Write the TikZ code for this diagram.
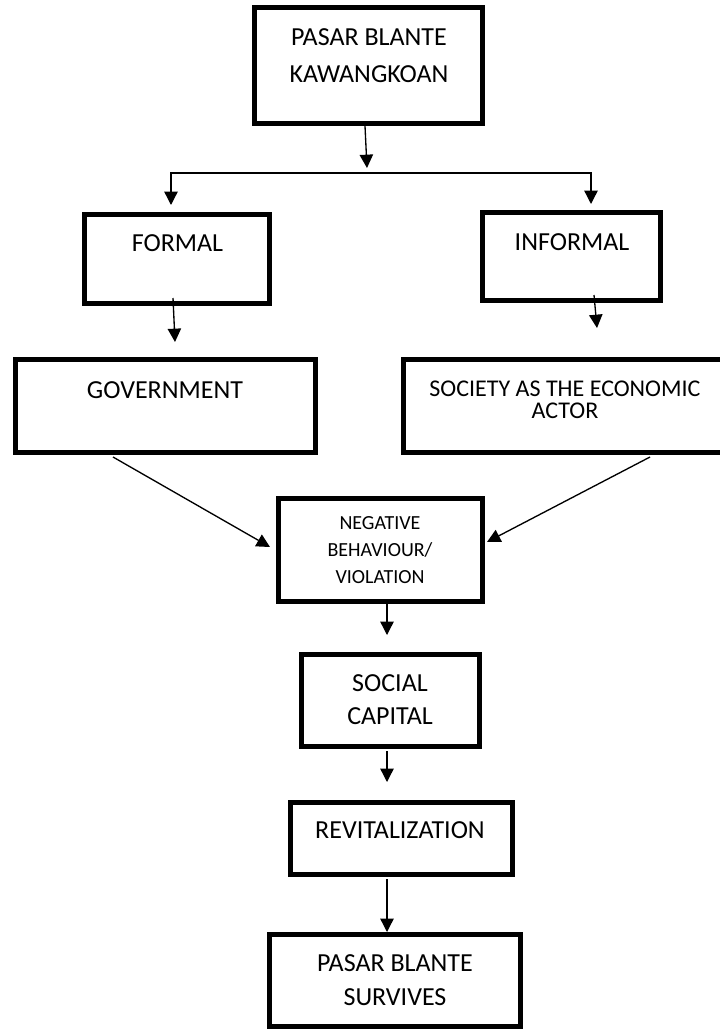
\documentclass[tikz,border=0pt]{standalone}
\usepackage{fontspec}
\setmainfont{Carlito}
\usetikzlibrary{positioning, calc, arrows.meta}
\tikzset{box/.style={draw, line width=3.75pt, inner sep=0pt}}
\tikzset{lbl/.style={align=center, inner sep=0pt, anchor=north, font=\fontsize{19.5}{25.5}\selectfont}}
\tikzset{flow/.style={line width=1pt, -{Triangle[length=10pt, width=10pt]}}}

\begin{document}
\begin{tikzpicture}[x=0.75pt, y=-0.75pt]
      \useasboundingbox (0,0) rectangle (719,1030);

      % boxes
      \node[box, minimum width=171pt, minimum height=87pt] (kaw) at (368.5,65.5) {};
      \node[box, minimum width=138.75pt, minimum height=66.75pt] (formal) at (177,259) {};
      \node[box, minimum width=133.5pt, minimum height=66pt] (informal) at (571.5,256.5) {};
      \node[box, minimum width=225pt, minimum height=69.75pt] (gov) at (165.5,406) {};
      \node[box, minimum width=241.1pt, minimum height=69.75pt] (society) at (564.25,406) {};
      \node[box, minimum width=153pt, minimum height=77.25pt] (negative) at (380.5,550) {};
      \node[box, minimum width=133.5pt, minimum height=69pt] (capital) at (390.5,700.5) {};
      \node[box, minimum width=166.5pt, minimum height=54pt] (revital) at (401.5,838.5) {};
      \node[box, minimum width=188.25pt, minimum height=69pt] (survive) at (395,980.5) {};

      % texts
      \node[lbl, font=\fontsize{19.5}{27.4}\selectfont] (kawtxt) at (369,28.8) {PASAR BLANTE\\KAWANGKOAN};
      \node[lbl] (formaltxt) at (177.5,234.8) {FORMAL};
      \node[lbl] (informaltxt) at (572,233.8) {INFORMAL};
      \node[lbl] (govtxt) at (165,381.8) {GOVERNMENT};
      \node[lbl, font=\fontsize{18}{16.5}\selectfont] (societytxt) at (565,380.4) {SOCIETY AS THE ECONOMIC\\ACTOR};
      \node[lbl, font=\fontsize{15}{20.25}\selectfont] (negativetxt) at (380,516.7) {NEGATIVE\\BEHAVIOUR/\\VIOLATION};
      \node[lbl, font=\fontsize{19.5}{24.75}\selectfont] (capitaltxt) at (390,674.8) {SOCIAL\\CAPITAL};
      \node[lbl] (revitaltxt) at (400,821.8) {REVITALIZATION};
      \node[lbl] (survivetxt) at (395,954.8) {PASAR BLANTE\\SURVIVES};

      % split
      \coordinate (split) at (367,173);
      \coordinate (splitL) at (171,173);
      \coordinate (splitR) at (591,173);

      \draw[flow] ($(kaw.south)+(-3.5,0)$) -- ($(split)+(0,-5)$);
      \draw[flow] (split) -| ($(splitL |- formal.north)+(0,-7)$);
      \draw[flow] (split) -| ($(splitR |- informal.north)+(0,-6)$);

      \draw[flow] ($(formal.south)+(-4,-8)$) -- ($(gov.north)+(9.5,-15)$);
      \draw[flow] ($(informal.south)+(22.5,-8)$) -- ($(society.north)+(32.75,-29)$);

      \draw[flow] ($(gov.south)+(-52.5,2)$) -- ($(negative.west)+(-6,-3)$);
      \draw[flow] ($(society.south)+(85.75,2)$) -- ($(negative.east)+(2,-8)$);

      \draw[flow] ($(negative.south)+(6.5,0)$) -- ($(capital.north)+(-3.5,-17)$);
      \draw[flow] ($(capital.south)+(-3.5,2)$) -- ($(revital.north)+(-14.5,-18)$);
      \draw[flow] ($(revital.south)+(-14.5,2)$) -- ($(survive.north)+(-8,0)$);
    \end{tikzpicture}
\end{document}
